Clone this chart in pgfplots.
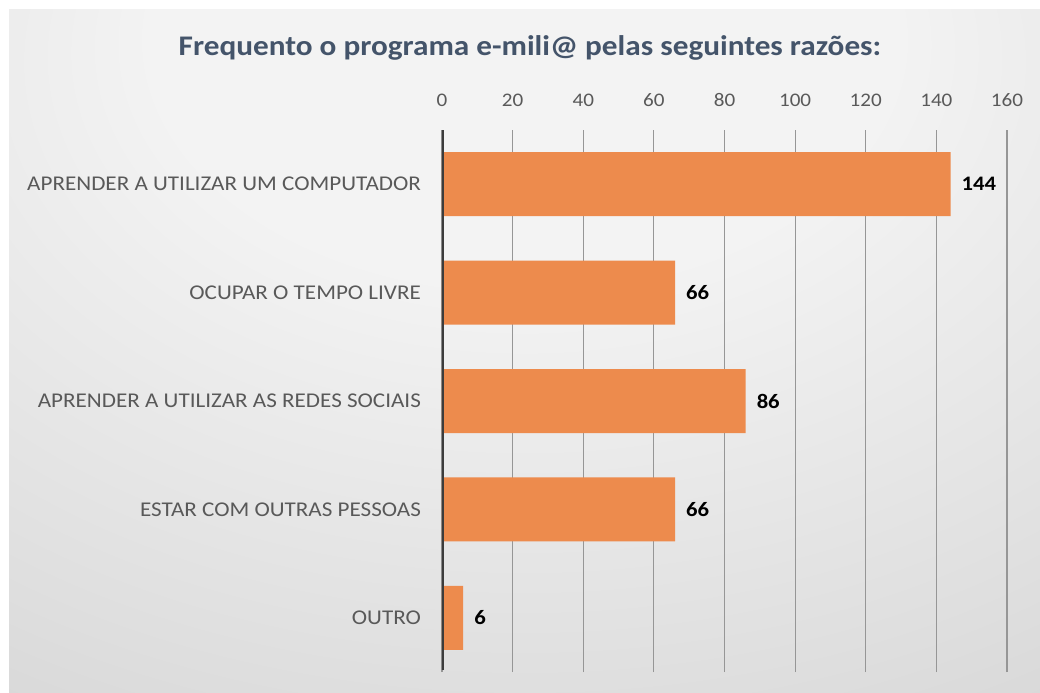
\documentclass[border=0pt]{standalone}
\usepackage{fontspec}
\setmainfont{Carlito}[FakeStretch=1.1]
\usepackage{pgfplots}
\pgfplotsset{compat=1.18}
\definecolor{barorange}{RGB}{237,139,77}
\definecolor{titleblue}{RGB}{68,84,106}
\definecolor{labelgray}{RGB}{89,89,89}
\definecolor{gridgray}{RGB}{150,150,150}
\definecolor{axisdark}{RGB}{60,60,60}
\definecolor{bgin}{RGB}{243,243,243}
\definecolor{bgmid}{RGB}{222,222,222}
\definecolor{bgout}{RGB}{196,196,196}
\pgfdeclareradialshading{bgshade}{\pgfpoint{0bp}{28bp}}{%
  color(0bp)=(bgin); color(18bp)=(bgin); color(42bp)=(bgmid);
  color(70bp)=(bgout); color(100bp)=(bgout)}

\begin{document}
\begin{tikzpicture}[x=1pt,y=1pt]
% canvas 1040x692 px at 0.5pt per px
\fill[white] (0,0) rectangle (520,346);
\shade[shading=bgshade] (4.5,0) rectangle (520,341);
\node[font=\fontsize{14.2}{17}\selectfont\bfseries, text=titleblue]
  at (265,322) {Frequento o programa e-mili@ pelas seguintes razões:};
\begin{axis}[
  at={(221pt,10pt)}, anchor=south west,
  scale only axis, width=282.5pt, height=271pt,
  xbar, bar width=32pt,
  xmin=0, xmax=160, ymin=-0.5, ymax=4.5,
  xtick={0,20,...,160}, ytick={0,...,4},
  yticklabels={OUTRO, ESTAR COM OUTRAS PESSOAS,
    APRENDER A UTILIZAR AS REDES SOCIAIS, OCUPAR O TEMPO LIVRE,
    APRENDER A UTILIZAR UM COMPUTADOR},
  xticklabel pos=upper,
  axis line style={draw=none},
  major tick length=0pt,
  xmajorgrids, grid style={gridgray, line width=0.6pt},
  /pgf/number format/assume math mode=true,
  xticklabel style={text=labelgray, font=\fontsize{9.6}{12}\selectfont},
  yticklabel style={text=labelgray, font=\fontsize{10.5}{12}\selectfont},
  xticklabel shift=8pt,
  yticklabel shift=7pt,
  nodes near coords,
  nodes near coords style={font=\fontsize{10.3}{12}\selectfont\bfseries,
    text=black, anchor=west, xshift=2pt},
]
\addplot[fill=barorange, draw=none] coordinates {
  (144,4) (66,3) (86,2) (66,1) (6,0)
};
\draw[axisdark, line width=1.6pt] (axis cs:0,-0.48) -- (axis cs:0,4.52);
\end{axis}
\end{tikzpicture}
\end{document}
